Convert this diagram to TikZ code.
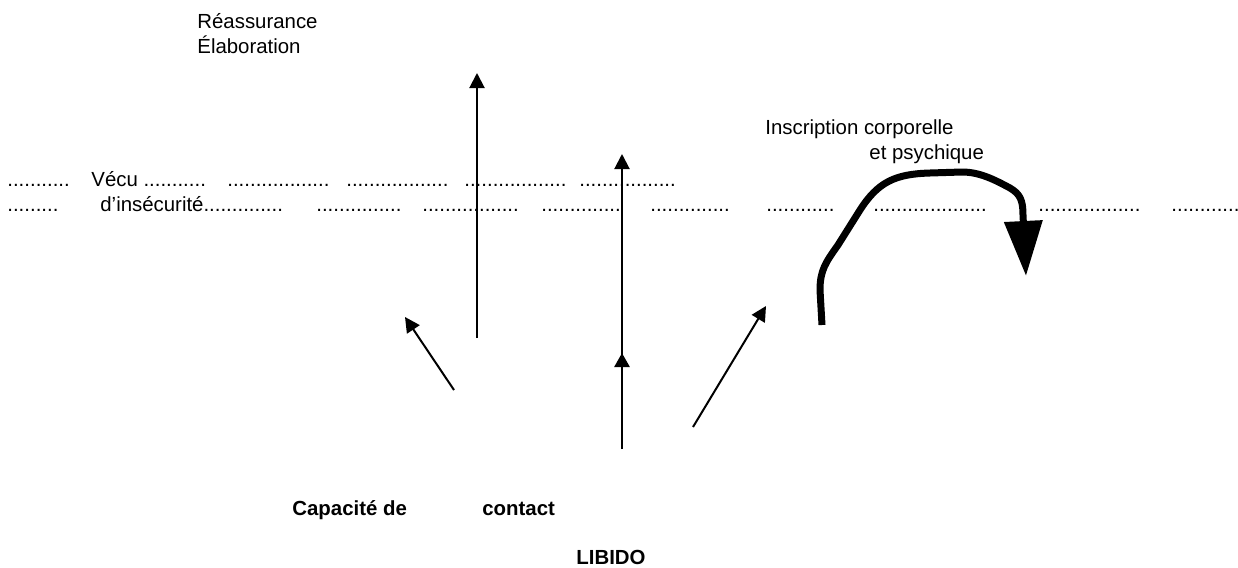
\documentclass[tikz,border=0pt]{standalone}
\usepackage{fontspec}
\setmainfont{Liberation Sans}
\usetikzlibrary{arrows.meta}

\begin{document}
\begin{tikzpicture}[x=0.5pt,y=-0.5pt,
  lbl/.style={anchor=base west,inner sep=0pt,font=\fontsize{10.2}{12}\selectfont},
  boldlbl/.style={lbl,font=\fontsize{10.2}{12}\selectfont\bfseries},
  arr/.style={line width=1pt,-{Triangle[length=7.5pt,width=7.5pt]}},
  fatarr/.style={line width=1.35pt,-{Triangle[length=7pt,width=7.5pt]}},
  curl/.style={line width=3.5pt,-{Triangle[length=27.5pt,width=18.5pt]}}]
\useasboundingbox (0,0) rectangle (1238,568);

% top labels
\node[lbl] (reass) at (197,28) {Réassurance};
\node[lbl] (elab) at (197,53) {Élaboration};
\node[lbl] (inscr) at (765,134) {Inscription corporelle};
\node[lbl] (psych) at (869,159) {et psychique};

% dotted lines
\node[lbl] (r1a) at (7,186) {...........};
\node[lbl] (r1b) at (91,186) {Vécu ...........};
\node[lbl] (r1c) at (227,186) {..................};
\node[lbl] (r1d) at (346,186) {..................};
\node[lbl] (r1e) at (464,186) {..................};
\node[lbl] (r1f) at (579,186) {.................};

\node[lbl] (r2a) at (7,211) {.........};
\node[lbl] (r2b) at (100,211) {d’insécurité..............};
\node[lbl] (r2c) at (316,211) {...............};
\node[lbl] (r2d) at (422,211) {.................};
\node[lbl] (r2e) at (541,211) {..............};
\node[lbl] (r2f) at (650,211) {..............};
\node[lbl] (r2g) at (766,211) {............};
\node[lbl] (r2h) at (873,211) {....................};
\node[lbl] (r2i) at (1038,211) {..................};
\node[lbl] (r2j) at (1171,211) {............};

% bottom labels
\node[boldlbl] (capa) at (292,515) {Capacité de};
\node[boldlbl] (cont) at (482,515) {contact};
\node[boldlbl] (libido) at (576,564) {LIBIDO};

% arrows
\coordinate (a1s) at (477,338);
\coordinate (a1e) at (477,73);
\coordinate (a2s) at (622,370);
\coordinate (a2e) at (622,154);
\coordinate (a3s) at (622,449);
\coordinate (a3e) at (622,353);
\coordinate (a4s) at (454,390);
\coordinate (a4e) at (405,317);
\coordinate (a5s) at (693,427);
\coordinate (a5e) at (766,306);
\draw[arr] (a1s) -- (a1e);
\draw[arr] (a2s) -- (a2e);
\draw[fatarr] (a3s) -- (a3e);
\draw[arr] (a4s) -- (a4e);
\draw[arr] (a5s) -- (a5e);

% curl
\coordinate (cs) at (822,325);
\coordinate (ce) at (1026,276);
\draw[curl] (cs) -- (820,290) .. controls (820,270) and (826,262) .. (838,245)
  -- (860,210) .. controls (878,182) and (895,174) .. (930,173)
  -- (962,172) .. controls (980,172) and (995,180) .. (1010,188)
  .. controls (1020,194) and (1023,200) .. (1023,215) -- (ce);

\end{tikzpicture}
\end{document}
